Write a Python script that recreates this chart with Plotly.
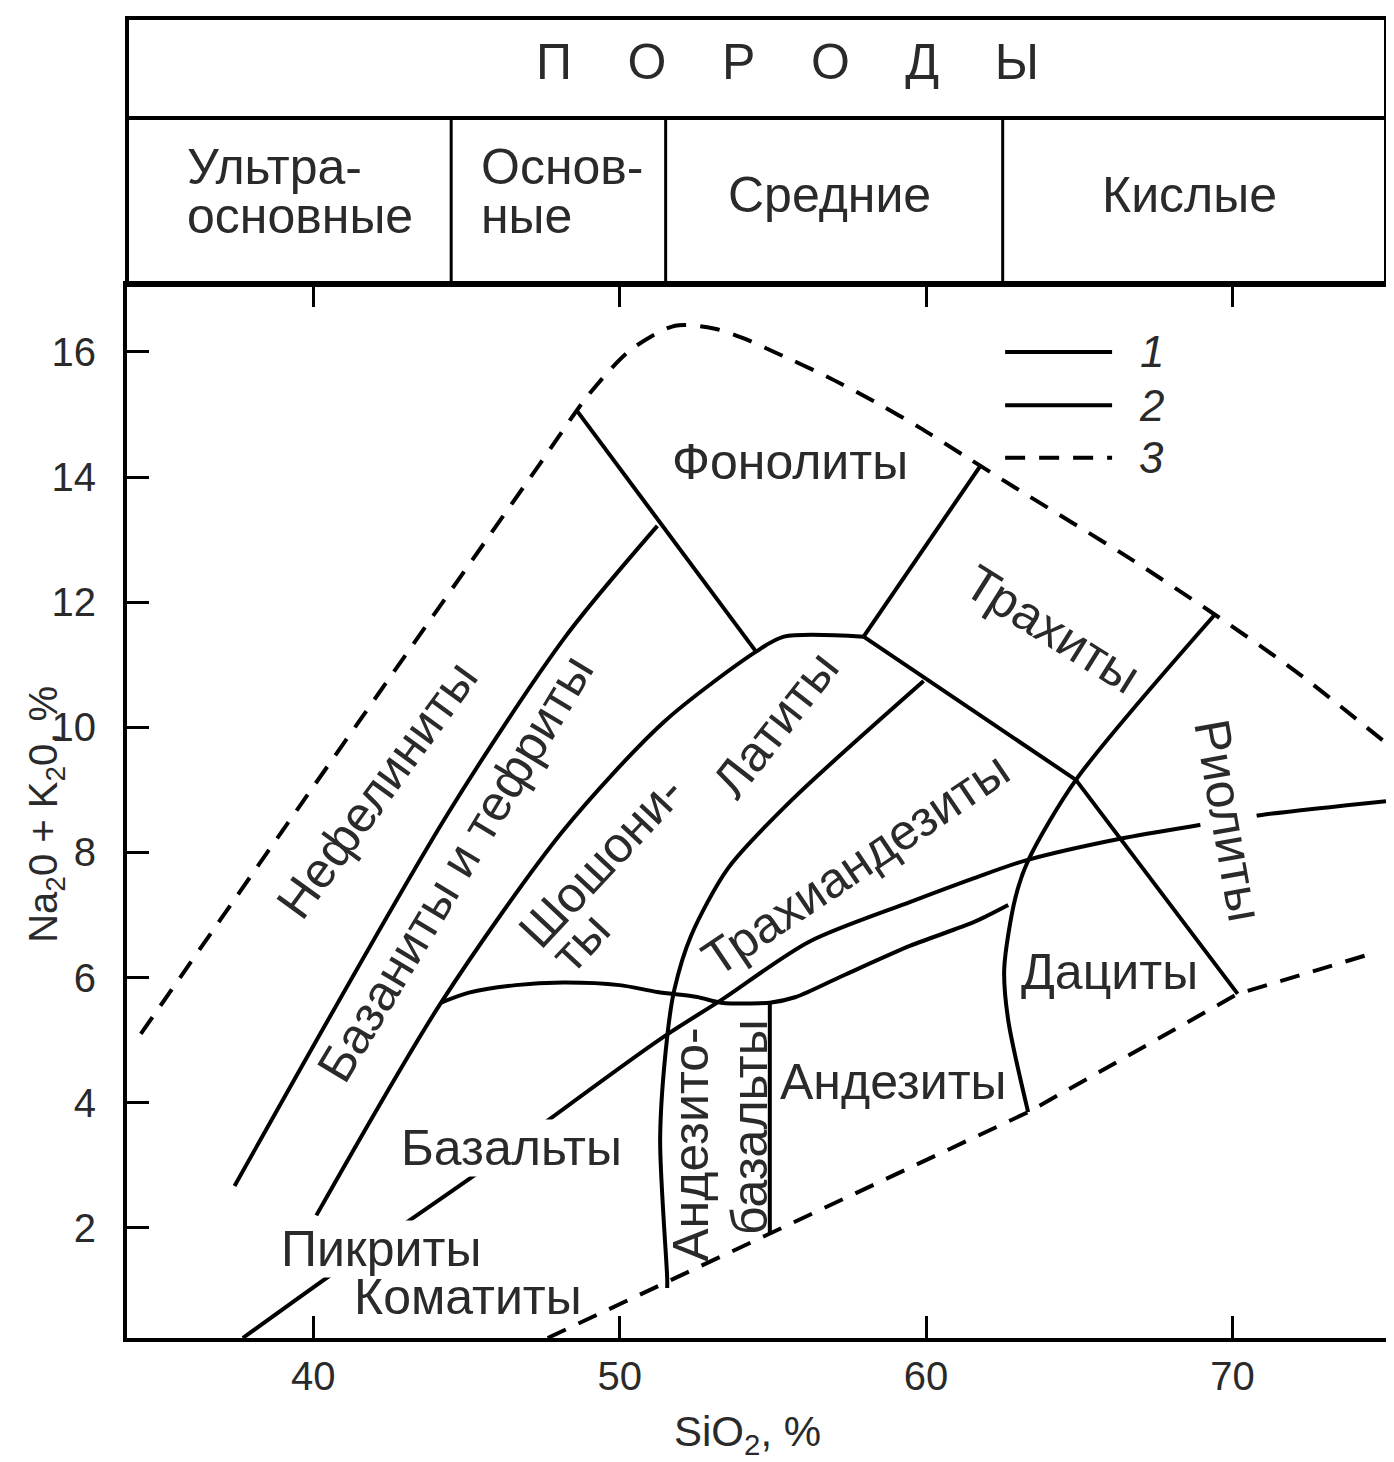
import plotly.graph_objects as go

# ---------------- axes ----------------
x_ticks = [40, 50, 60, 70]
y_ticks = [2, 4, 6, 8, 10, 12, 14, 16]
x_range = [33.92, 75.01]
y_range = [0.24, 17.07]

# ---------------- header (rock groups) ----------------
header_title = "П    О    Р    О    Д    Ы"
group_bounds = [44.5, 51.5, 62.5]
group_line1 = ["Ультра-", "Основ-", "Средние", "Кислые"]
group_line2 = ["основные", "ные", "", ""]
group_x = [35.8, 45.4, 56.86, 68.6]

# ---------------- boundary lines (SiO2, Na2O+K2O) ----------------
# 3 - upper dashed limit
ud_x = [34.37, 39.54, 47.35, 49.01, 50.35, 51.81, 53.11, 54.03, 55.13, 56.79,
        58.45, 59.79, 61.25, 62.91, 66.52, 69.19, 72.05, 75.01]
ud_y = [5.10, 8.73, 14.18, 15.33, 16.03, 16.42, 16.37, 16.22, 15.98, 15.60,
        15.17, 14.79, 14.34, 13.83, 12.74, 11.88, 10.90, 9.75]
# 3 - lower dashed limit
ld_x = [47.65, 63.33, 70.17, 74.59]
ld_y = [0.24, 3.85, 5.74, 6.39]
# nephelinite / basanite boundary
a_x = [37.43, 44.39, 48.23, 51.23]
a_y = [2.67, 8.62, 11.45, 13.22]
# basanite / shoshonite-latite boundary
b_x = [40.10, 44.17, 48.14, 51.45, 54.45, 55.36, 57.96]
b_y = [2.20, 5.60, 8.34, 10.09, 11.21, 11.45, 11.45]
# phonolite lower boundary
ph_x = [48.62, 54.45]
ph_y = [15.05, 11.21]
# trachyte / phonolite boundary
tp_x = [57.96, 61.80]
tp_y = [11.45, 14.20]
# trachyte / trachyandesite / dacite boundary
d_x = [57.96, 64.89, 70.17]
d_y = [11.45, 9.16, 5.74]
# latite / trachyandesite / andesite-basalt boundary
c_x = [59.92, 55.62, 53.54, 52.33, 51.78, 51.55, 51.32, 51.55, 51.55]
c_y = [10.74, 8.84, 7.75, 6.67, 5.80, 5.05, 3.42, 1.20, 1.04]
# rhyolite / trachyte / dacite boundary
r_x = [69.42, 64.89, 63.33, 62.91, 62.55, 62.68, 63.33]
r_y = [11.80, 9.16, 7.87, 7.27, 6.14, 5.32, 3.85]
# basalt upper boundary
bt_x = [44.17, 45.08, 46.61, 48.14, 49.99, 51.23, 52.53, 53.31, 54.90, 55.75,
        57.28, 59.49, 61.57, 62.68]
bt_y = [5.60, 5.76, 5.88, 5.92, 5.88, 5.77, 5.69, 5.60, 5.60, 5.69,
        6.03, 6.51, 6.89, 7.16]
# andesite-basalt / andesite vertical
v_x = [54.90, 54.90]
v_y = [5.60, 1.92]
# long alkaline / subalkaline boundary
ll_x = [37.70, 40.75, 42.96, 45.60, 47.58, 51.42, 53.31, 56.17, 59.49, 61.57,
        63.23, 66.33, 69.19, 70.95, 75.01]
ll_y = [0.24, 1.31, 2.06, 2.96, 3.69, 5.05, 5.64, 6.57, 7.21, 7.59,
        7.87, 8.22, 8.46, 8.60, 8.82]

# ---------------- legend ----------------
leg_labels = ["1", "2", "3"]
leg_x = [62.58, 66.07]
leg_y = [16.0, 15.15, 14.31]
leg_dash = ["solid", "solid", "20px,14px"]
leg_label_x = 67.37

# ---------------- field names ----------------
lab_text = ["Нефелиниты", "Базаниты и тефриты", "Шошони-", "ты", "Латиты",
            "Фонолиты", "Трахиты", "Трахиандезиты", "Риолиты", "Дациты",
            "Андезиты", "Андезито-", "базальты", "Базальты", "Пикриты", "Коматиты"]
lab_x = [42.08, 44.65, 49.40, 48.72, 55.10, 55.56, 64.11, 57.70, 69.87, 65.97,
         58.94, 52.33, 54.25, 46.48, 42.21, 45.04]
lab_y = [9.00, 7.75, 7.87, 6.57, 10.05, 14.24, 11.57, 7.82, 8.52, 6.09,
         4.33, 3.33, 3.61, 3.28, 1.66, 0.90]
lab_angle = [-54, -59, -47, -47, -52, 0, 32, -34, 80, 0, 0, -90, -90, 0, 0, 0]
lab_mask = [False, False, False, False, False, False, False, False, True, False,
            False, False, False, True, True, False]

DASH = "20px,14px"
LW = 4
TXT = "#2a2a2a"
FONT = "Liberation Sans, Arial, sans-serif"
LAB_SIZE = 50

fig = go.Figure()


def add_line(x, y, dash="solid", spline=False):
    fig.add_trace(go.Scatter(
        x=x, y=y, mode="lines", hoverinfo="skip", showlegend=False,
        line=dict(color="black", width=LW, dash=dash,
                  shape="spline" if spline else "linear", smoothing=0.8)))


add_line(ud_x, ud_y, DASH, True)
add_line(ld_x, ld_y, DASH)
add_line(a_x, a_y, spline=True)
add_line(b_x, b_y, spline=True)
add_line(ph_x, ph_y)
add_line(tp_x, tp_y)
add_line(d_x, d_y)
add_line(c_x, c_y, spline=True)
add_line(r_x, r_y, spline=True)
add_line(bt_x, bt_y, spline=True)
add_line(v_x, v_y)
add_line(ll_x, ll_y, spline=True)

# legend samples
for lbl, ly, ld in zip(leg_labels, leg_y, leg_dash):
    add_line(leg_x, [ly, ly], ld)
    fig.add_annotation(x=leg_label_x, y=ly, text="<i>" + lbl + "</i>", showarrow=False,
                       font=dict(family=FONT, size=44, color=TXT),
                       xanchor="center", yanchor="middle")

# field labels
for t, x, y, ang, m in zip(lab_text, lab_x, lab_y, lab_angle, lab_mask):
    fig.add_annotation(x=x, y=y, text=t, showarrow=False, textangle=ang,
                       xanchor="center", yanchor="middle",
                       font=dict(family=FONT, size=LAB_SIZE, color=TXT),
                       bgcolor="white" if m else "rgba(0,0,0,0)", borderpad=0)

# header table
H_TOP = 1.2536
H_MID = 1.1586
fig.add_shape(type="rect", xref="paper", yref="paper", x0=0, x1=1, y0=1, y1=H_TOP,
              line=dict(color="black", width=4))
fig.add_shape(type="line", xref="paper", yref="paper", x0=0, x1=1, y0=H_MID, y1=H_MID,
              line=dict(color="black", width=4))
for gb in group_bounds:
    fig.add_shape(type="line", xref="x", yref="paper", x0=gb, x1=gb, y0=1, y1=H_MID,
                  line=dict(color="black", width=3))
fig.add_annotation(xref="paper", yref="paper", x=0.525, y=1.2118, text=header_title,
                   xanchor="center", yanchor="middle",
                   showarrow=False, font=dict(family=FONT, size=50, color=TXT))
for t1, t2, gx in zip(group_line1, group_line2, group_x):
    if t2:
        fig.add_annotation(xref="x", yref="paper", x=gx, y=1.1120, text=t1,
                           xanchor="left", yanchor="middle",
                           showarrow=False, font=dict(family=FONT, size=LAB_SIZE, color=TXT))
        fig.add_annotation(xref="x", yref="paper", x=gx, y=1.0655, text=t2,
                           xanchor="left", yanchor="middle",
                           showarrow=False, font=dict(family=FONT, size=LAB_SIZE, color=TXT))
    else:
        fig.add_annotation(xref="x", yref="paper", x=gx, y=1.0855, text=t1,
                           xanchor="center", yanchor="middle",
                           showarrow=False, font=dict(family=FONT, size=LAB_SIZE, color=TXT))

# axis titles
fig.add_annotation(xref="paper", yref="paper", x=0.493, y=-0.092, text="SiO<sub>2</sub>, %",
                   xanchor="center", yanchor="middle",
                   showarrow=False, font=dict(family=FONT, size=42, color=TXT))
fig.add_annotation(xref="paper", yref="paper", x=-0.065, y=0.497, textangle=-90,
                   text="Na<sub>2</sub>0 + K<sub>2</sub>0, %",
                   xanchor="center", yanchor="middle",
                   showarrow=False, font=dict(family=FONT, size=40, color=TXT))

fig.update_xaxes(range=x_range, tickvals=x_ticks, ticks="inside", ticklen=22, tickwidth=3,
                 tickcolor="black", showline=True, linewidth=4, linecolor="black",
                 mirror="ticks", showgrid=False, zeroline=False,
                 tickfont=dict(family=FONT, size=40, color=TXT), ticklabelstandoff=0)
fig.update_yaxes(range=y_range, tickvals=y_ticks, ticks="inside", ticklen=22, tickwidth=3,
                 tickcolor="black", showline=True, linewidth=4, linecolor="black",
                 mirror=True, showgrid=False, zeroline=False,
                 tickfont=dict(family=FONT, size=40, color=TXT), ticklabelstandoff=19)

# page body adds an 8px offset; figure is sized so the plot lands where the reference has it
fig.update_layout(width=1386, height=1454, margin=dict(l=119, r=4, t=277, b=124),
                  plot_bgcolor="white", paper_bgcolor="white", showlegend=False)

fig.write_html("out.html")
